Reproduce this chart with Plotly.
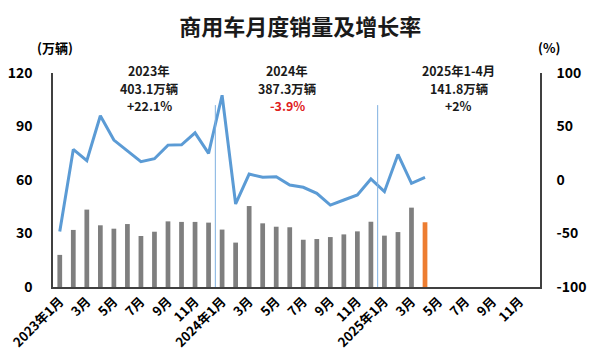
import plotly.graph_objects as go

months = []
for y in (2023, 2024, 2025):
    for m in range(1, 13):
        months.append(f"{y}年{m}月")

tick_vals = months[::2]
tick_text = []
for lbl in tick_vals:
    y, m = lbl.split("年")
    tick_text.append(lbl if m == "1月" else m)

sales = [18.0, 32.0, 43.4, 34.6, 32.7, 35.3, 28.6, 31.0, 36.8, 36.5, 36.5, 36.1,
         32.2, 24.9, 45.4, 35.7, 33.8, 33.5, 26.5, 26.9, 28.0, 29.5, 31.2, 36.6,
         28.8, 30.8, 44.5, 36.3]
growth = [-48.2, 28.6, 18.1, 60.0, 37.3, 27.3, 17.1, 19.9, 32.6, 32.9, 44.1, 24.9,
          79.2, -22.4, 5.6, 2.5, 3.1, -4.7, -6.8, -12.5, -23.4, -18.7, -14.0, 1.0,
          -10.9, 23.9, -3.1, 2.5]

bar_colors = ["#7f7f7f"] * (len(sales) - 1) + ["#ed7d31"]

font_family = "Noto Sans CJK SC, Noto Sans, sans-serif"

fig = go.Figure()
fig.add_trace(go.Bar(x=months[:len(sales)], y=sales, marker_color=bar_colors,
                     marker_line_width=0, yaxis="y", showlegend=False))
fig.add_trace(go.Scatter(x=months[:len(growth)], y=growth, mode="lines",
                         line=dict(color="#5b9bd5", width=3), yaxis="y2",
                         showlegend=False))

# year separators
for xpos in (11.5, 23.5):
    fig.add_shape(type="line", xref="x", yref="y", x0=xpos, x1=xpos, y0=0, y1=102,
                  line=dict(color="#7fb0e0", width=1))

fig.update_layout(
    width=600, height=363,
    margin=dict(l=45, r=68, t=65, b=84),
    paper_bgcolor="white", plot_bgcolor="white",
    bargap=0.65,
    font=dict(family=font_family, color="black", size=12),
    title=dict(text="<b>商用车月度销量及增长率</b>", x=0.487, xanchor="center",
               y=0.948, yanchor="middle", font=dict(size=22, color="#1a1a1a")),
    xaxis=dict(type="category", categoryorder="array", categoryarray=months,
               range=[-0.5, len(months) - 0.5], automargin=False,
               tickmode="array", tickvals=tick_vals,
               ticktext=[f"<b>{t}</b>" for t in tick_text],
               tickangle=-45, ticks="", showline=True, linecolor="#404040",
               linewidth=1.5, showgrid=False, tickfont=dict(size=13)),
    yaxis=dict(range=[0, 120], dtick=30, showgrid=False, showline=True,
               linecolor="#404040", linewidth=1.5, ticks="", zeroline=False,
               tickfont=dict(size=14), automargin=False, ticklabelstandoff=16,
               tickvals=[0, 30, 60, 90, 120],
               ticktext=["<b>0</b>", "<b>30</b>", "<b>60</b>", "<b>90</b>", "<b>120</b>"]),
    yaxis2=dict(range=[-100, 100], overlaying="y", side="right", showgrid=False,
                showline=True, linecolor="#404040", linewidth=1.5, ticks="",
                zeroline=False, tickfont=dict(size=14), automargin=False,
                tickvals=[-100, -50, 0, 50, 100],
                ticktext=["<b>-100</b>", "<b>-50</b>", "<b>0</b>", "<b>50</b>", "<b>100</b>"],
                ticklabelstandoff=12),
)

fig.add_annotation(text="<b>(万辆)</b>", xref="paper", yref="paper", x=0.004, y=1.121,
                   xanchor="center", yanchor="middle", showarrow=False, font=dict(size=13))
fig.add_annotation(text="<b>(%)</b>", xref="paper", yref="paper", x=1.018, y=1.121,
                   xanchor="center", yanchor="middle", showarrow=False, font=dict(size=13))

notes = [
    (6.6, ["2023年", "403.1万辆", "+22.1%"], ["#1a1a1a", "#1a1a1a", "#1a1a1a"]),
    (16.8, ["2024年", "387.3万辆", "-3.9%"], ["#1a1a1a", "#1a1a1a", "#e02020"]),
    (29.5, ["2025年1-4月", "141.8万辆", "+2%"], ["#1a1a1a", "#1a1a1a", "#1a1a1a"]),
]
for xpos, lines, colors in notes:
    for k, (txt, col) in enumerate(zip(lines, colors)):
        fig.add_annotation(text=f"<b>{txt}</b>", xref="x", yref="paper", x=xpos,
                           y=1.008 - k * 0.082, xanchor="center", yanchor="middle",
                           showarrow=False, borderpad=0, font=dict(size=12.4, color=col))

fig.write_html("out.html")
